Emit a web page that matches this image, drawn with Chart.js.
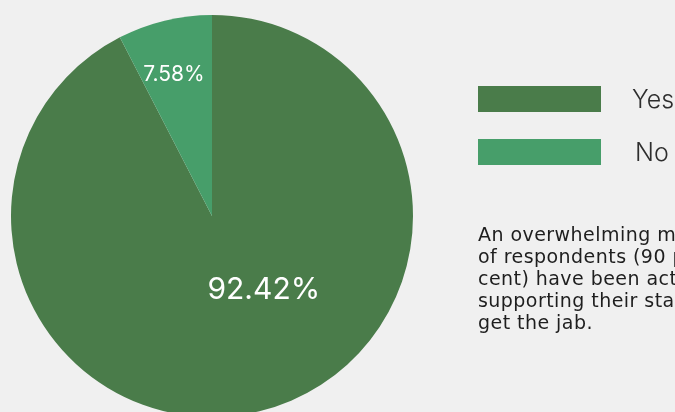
<!DOCTYPE html>
<html>
<head>
<meta charset="utf-8">
<script src="https://cdn.jsdelivr.net/npm/chart.js@4"></script>
<style>
  html, body { margin: 0; padding: 0; background: #f0f0f0; }
  #wrap { position: relative; width: 675px; height: 412px; overflow: hidden; }
  #c { position: absolute; left: 0; top: 0; }
</style>
</head>
<body>
<div id="wrap"><canvas id="c" width="675" height="432"></canvas></div>
<script>
// Survey answers: share of respondents (%)
const categories = ['Yes', 'No'];
const shares = [92.42, 7.58];
const sliceColors = ['#4a7c4a', '#479e6a'];
const note = [
  'An overwhelming majority',
  'of respondents (90 per',
  'cent) have been actively',
  'supporting their staff to',
  'get the jab.'
];

const FONT = 'Inter, "Open Sans", "DejaVu Sans", sans-serif';
const NOTE_FONT = '"DejaVu Sans", Verdana, sans-serif';

// Label placement inside each slice: fraction along the arc, fraction of radius, font size
const labelPlacement = [
  { along: 0.436, radial: 0.45, size: 30 },
  { along: 0.45,  radial: 0.73, size: 21 }
];

const sliceLabels = {
  id: 'sliceLabels',
  afterDatasetsDraw(chart) {
    const ctx = chart.ctx;
    const meta = chart.getDatasetMeta(0);
    meta.data.forEach((arc, i) => {
      const p = arc.getProps(['x', 'y', 'startAngle', 'endAngle', 'outerRadius'], true);
      const pl = labelPlacement[i];
      const a = p.startAngle + (p.endAngle - p.startAngle) * pl.along;
      const r = p.outerRadius * pl.radial;
      ctx.save();
      ctx.fillStyle = '#ffffff';
      ctx.font = '400 ' + pl.size + 'px ' + FONT;
      ctx.textAlign = 'center';
      ctx.textBaseline = 'middle';
      ctx.fillText(shares[i].toFixed(2) + '%', p.x + Math.cos(a) * r, p.y + Math.sin(a) * r);
      ctx.restore();
    });
  }
};

const sideLegend = {
  id: 'sideLegend',
  afterDraw(chart) {
    const ctx = chart.ctx;
    ctx.save();
    categories.forEach((name, i) => {
      const y = 86 + i * 53;
      ctx.fillStyle = sliceColors[i];
      ctx.fillRect(478, y, 123, 26);
      ctx.fillStyle = '#2e2e2e';
      ctx.font = '300 25px ' + FONT;
      ctx.textAlign = 'left';
      ctx.textBaseline = 'middle';
      ctx.fillText(name, i === 0 ? 632 : 635, y + 14);
    });
    ctx.fillStyle = '#1e1e1e';
    ctx.font = '400 19px ' + NOTE_FONT;
    ctx.letterSpacing = '0.45px';
    ctx.textBaseline = 'alphabetic';
    note.forEach((line, i) => ctx.fillText(line, 478, 241 + i * 22));
    ctx.restore();
  }
};

new Chart(document.getElementById('c'), {
  type: 'pie',
  data: {
    labels: categories,
    datasets: [{
      data: shares,
      backgroundColor: sliceColors,
      borderWidth: 0
    }]
  },
  options: {
    responsive: false,
    animation: false,
    layout: { padding: { left: 11, top: 15, right: 262, bottom: 15 } },
    plugins: { legend: { display: false }, tooltip: { enabled: false } }
  },
  plugins: [sliceLabels, sideLegend]
});
</script>
</body>
</html>
